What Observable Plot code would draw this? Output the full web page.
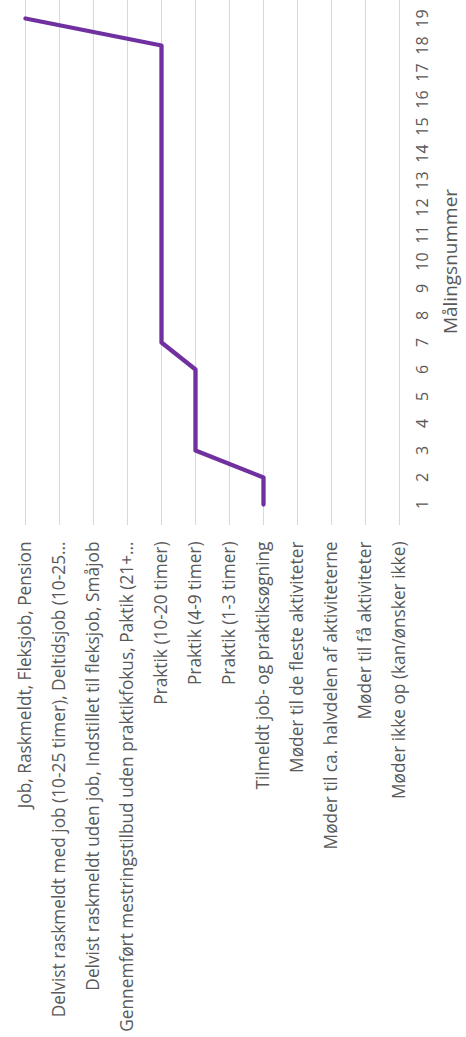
<!DOCTYPE html>
<html>
<head>
<meta charset="utf-8">
<script src="https://cdn.jsdelivr.net/npm/d3@7"></script>
<script src="https://cdn.jsdelivr.net/npm/@observablehq/plot@0.6"></script>
<style>
  html, body { margin: 0; padding: 0; background: #fff; }
</style>
</head>
<body>
<div id="chart"></div>
<script>
// Status levels, from the highest (job) to the lowest (not showing up)
const levels = [
  "Job, Raskmeldt, Fleksjob, Pension",
  "Delvist raskmeldt med job (10-25 timer), Deltidsjob (10-25…",
  "Delvist raskmeldt uden job, Indstillet til fleksjob, Småjob",
  "Gennemført mestringstilbud uden praktikfokus, Paktik (21+…",
  "Praktik (10-20 timer)",
  "Praktik (4-9 timer)",
  "Praktik (1-3 timer)",
  "Tilmeldt job- og praktiksøgning",
  "Møder til de fleste aktiviteter",
  "Møder til ca. halvdelen af aktiviteterne",
  "Møder til få aktiviteter",
  "Møder ikke op (kan/ønsker ikke)"
];

// Measurement numbers
const measurements = [1, 2, 3, 4, 5, 6, 7, 8, 9, 10, 11, 12, 13, 14, 15, 16, 17, 18, 19];

// Status recorded at each measurement
const status = [
  "Tilmeldt job- og praktiksøgning",
  "Tilmeldt job- og praktiksøgning",
  "Praktik (4-9 timer)",
  "Praktik (4-9 timer)",
  "Praktik (4-9 timer)",
  "Praktik (4-9 timer)",
  "Praktik (10-20 timer)",
  "Praktik (10-20 timer)",
  "Praktik (10-20 timer)",
  "Praktik (10-20 timer)",
  "Praktik (10-20 timer)",
  "Praktik (10-20 timer)",
  "Praktik (10-20 timer)",
  "Praktik (10-20 timer)",
  "Praktik (10-20 timer)",
  "Praktik (10-20 timer)",
  "Praktik (10-20 timer)",
  "Praktik (10-20 timer)",
  "Job, Raskmeldt, Fleksjob, Pension"
];

const rows = measurements.map((m, i) => ({measurement: m, level: status[i]}));

const textColor = "#595959";

const chart = Plot.plot({
  width: 466,
  height: 1037,
  marginTop: -3,
  marginLeft: 22,
  marginRight: 65,
  marginBottom: 512,
  style: {fontFamily: "'Open Sans', sans-serif", color: textColor, background: "#fff", overflow: "visible"},
  x: {type: "point", domain: levels, padding: 0, axis: null},
  y: {type: "point", domain: measurements, reverse: true, padding: 0.5, axis: null},
  marks: [
    Plot.gridX({stroke: "#d9d9d9", strokeOpacity: 1, strokeWidth: 1}),
    Plot.axisX({anchor: "bottom", tickSize: 0, tickPadding: 16, tickRotate: -90, fontSize: 17.3, fill: textColor, label: null}),
    Plot.axisY({anchor: "right", tickSize: 0, tickPadding: 26, tickRotate: -90, fontSize: 16, fill: textColor, label: null}),
    Plot.axisY({anchor: "right", ticks: [], tickSize: 0, fontSize: 19, fill: textColor, label: "Målingsnummer", labelAnchor: "center", labelArrow: "none", labelOffset: 55}),
    Plot.line(rows, {x: "level", y: "measurement", stroke: "#7030a0", strokeWidth: 4.3})
  ]
});

document.getElementById("chart").appendChild(chart);
</script>
</body>
</html>
